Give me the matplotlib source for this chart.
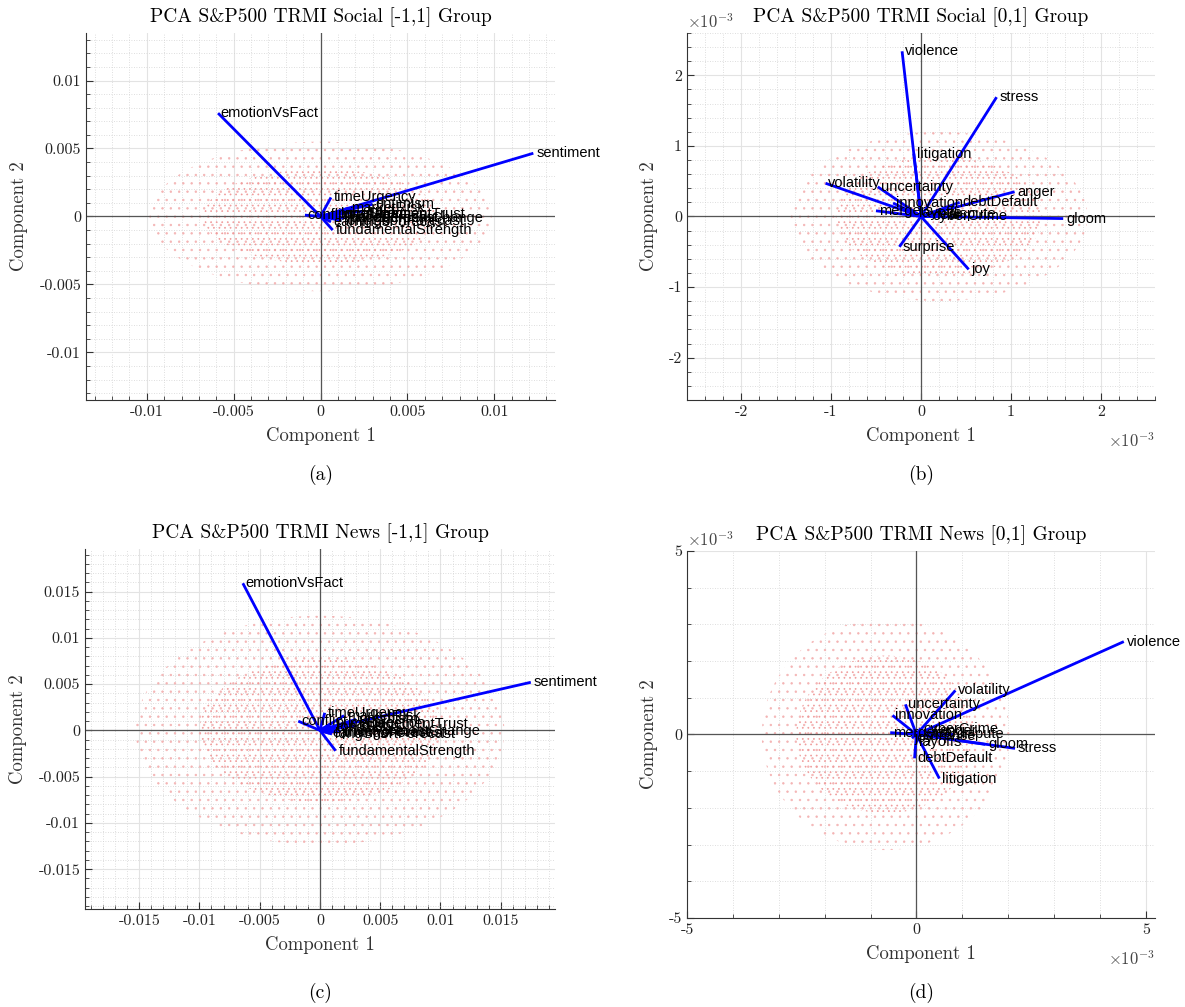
import numpy as np
import matplotlib
matplotlib.use("Agg")
import matplotlib.pyplot as plt
from matplotlib.patches import Ellipse
from matplotlib.ticker import MultipleLocator, FuncFormatter

plt.rcParams['font.family'] = 'serif'
plt.rcParams['font.serif'] = ['cmr10', 'DejaVu Serif']
plt.rcParams['mathtext.fontset'] = 'cm'
plt.rcParams['axes.unicode_minus'] = False
plt.rcParams['hatch.linewidth'] = 0.5

# ---- data: PCA loadings (component 1, component 2) ----
soc_bi_vars = ['sentiment', 'emotionVsFact', 'timeUrgency', 'optimism', 'marketRisk',
               'trust', 'conflict', 'priceDirection', 'priceForecast', 'longShort',
               'longShortForecast', 'managementTrust', 'managementChange',
               'earningsForecast', 'fundamentalStrength']
soc_bi_pc1 = [0.01225, -0.0059, 0.0006, 0.0030, 0.0016, 0.0025, -0.0009, 0.0008,
              0.0015, 0.0010, 0.0012, 0.0013, 0.0013, 0.0006, 0.0007]
soc_bi_pc2 = [0.00465, 0.0076, 0.0014, 0.0009, 0.0006, 0.0004, 0.0001, 0.0002,
              -0.0001, 0.0002, -0.0003, 0.0002, -0.0001, -0.0004, -0.0010]

soc_uni_vars = ['violence', 'stress', 'litigation', 'volatility', 'uncertainty', 'anger',
                'gloom', 'debtDefault', 'innovation', 'mergers', 'dispute', 'fear',
                'layoffs', 'cyberCrime', 'surprise', 'joy']
soc_uni_pc1 = [-0.21e-3, 0.84e-3, -0.08e-3, -1.06e-3, -0.48e-3, 1.04e-3, 1.58e-3,
               0.43e-3, -0.31e-3, -0.50e-3, 0.27e-3, 0.15e-3, -0.05e-3, 0.10e-3,
               -0.24e-3, 0.53e-3]
soc_uni_pc2 = [2.34e-3, 1.69e-3, 0.89e-3, 0.47e-3, 0.42e-3, 0.35e-3, -0.03e-3,
               0.20e-3, 0.19e-3, 0.08e-3, 0.04e-3, 0.02e-3, 0.05e-3, 0.01e-3,
               -0.43e-3, -0.75e-3]

news_bi_vars = soc_bi_vars
news_bi_pc1 = [0.0175, -0.0064, 0.0004, 0.0030, 0.0020, 0.0030, -0.0018, 0.0010,
               0.0015, 0.0012, 0.0010, 0.0022, 0.0017, 0.0008, 0.0013]
news_bi_pc2 = [0.0052, 0.0159, 0.0019, 0.0012, 0.0016, 0.0005, 0.0010, 0.0008,
               -0.0002, 0.0004, -0.0004, 0.0007, -0.0001, -0.0003, -0.0022]

news_uni_vars = ['violence', 'volatility', 'uncertainty', 'innovation', 'mergers',
                 'cyberCrime', 'dispute', 'gloom', 'stress', 'layoffs', 'debtDefault',
                 'litigation', 'fear', 'anger', 'joy', 'surprise']
news_uni_pc1 = [4.52e-3, 0.85e-3, -0.24e-3, -0.52e-3, -0.57e-3, 0.09e-3, 0.80e-3,
                1.50e-3, 2.15e-3, 0.00e-3, -0.04e-3, 0.50e-3, 0.30e-3, 0.45e-3,
                -0.10e-3, 0.10e-3]
news_uni_pc2 = [2.53e-3, 1.20e-3, 0.82e-3, 0.52e-3, 0.05e-3, 0.16e-3, 0.00e-3,
                -0.27e-3, -0.38e-3, -0.20e-3, -0.65e-3, -1.20e-3, 0.05e-3, 0.10e-3,
                -0.10e-3, -0.05e-3]

# spread of the observation scores (centre x, centre y, outer w, outer h, core w, core h)
soc_bi_obs = [0.0, 0.0, 0.0197, 0.0110, 0.0135, 0.0070]
soc_uni_obs = [0.2e-3, 0.0, 3.3e-3, 2.4e-3, 2.3e-3, 1.7e-3]
news_bi_obs = [0.0, 0.0, 0.0306, 0.0248, 0.0200, 0.0155]
news_uni_obs = [-0.67e-3, 0.0, 5.4e-3, 6.3e-3, 3.9e-3, 4.3e-3]

titles = ['PCA S&P500 TRMI Social [-1,1] Group', 'PCA S&P500 TRMI Social [0,1] Group',
          'PCA S&P500 TRMI News [-1,1] Group', 'PCA S&P500 TRMI News [0,1] Group']
captions = ['(a)', '(b)', '(c)', '(d)']


def biplot(ax, names, pc1, pc2, obs, lim, major, minor, scaled=False):
    cx, cy, ow, oh, iw, ih = obs
    ax.add_patch(Ellipse((cx, cy), ow, oh, facecolor='none', edgecolor='#f4b4b4',
                         hatch='..', linewidth=0, zorder=1))
    ax.add_patch(Ellipse((cx, cy), iw, ih, facecolor='none', edgecolor='#f09c9c',
                         hatch='...', linewidth=0, zorder=1))

    ax.axhline(0, color='#555555', lw=0.9, zorder=2)
    ax.axvline(0, color='#555555', lw=0.9, zorder=2)
    for n, x, y in zip(names, pc1, pc2):
        ax.plot([0, x], [0, y], color='blue', lw=2.0, zorder=3, solid_capstyle='butt')
        ax.annotate(n, (x, y), xytext=(2, 0), textcoords='offset points',
                    ha='left', va='center', fontsize=10.5, family='Liberation Sans',
                    zorder=4)

    ax.set_xlim(lim[0], lim[1])
    ax.set_ylim(lim[2], lim[3])
    for axis in (ax.xaxis, ax.yaxis):
        axis.set_major_locator(MultipleLocator(major))
        axis.set_minor_locator(MultipleLocator(minor))
        if scaled:
            axis.set_major_formatter(FuncFormatter(lambda v, _: f'{round(v * 1e3, 3) + 0.0:g}'))
        else:
            axis.set_major_formatter(FuncFormatter(lambda v, _: f'{round(v, 4) + 0.0:g}'))
    ax.grid(which='major', color='#e3e3e3', lw=0.8, ls='-')
    ax.grid(which='minor', color='#d3d3d3', lw=0.6, ls=(0, (1, 2)))
    ax.set_axisbelow(True)
    for s in ('top', 'right'):
        ax.spines[s].set_visible(False)
    for s in ('left', 'bottom'):
        ax.spines[s].set_color('#333333')
        ax.spines[s].set_linewidth(0.8)
    ax.tick_params(which='both', direction='in', colors='#333333', labelsize=11.5,
                   labelcolor='#222222')
    ax.tick_params(which='major', length=5)
    ax.tick_params(which='minor', length=3)
    ax.set_xlabel('Component 1', fontsize=13.5, color='#333333', labelpad=6)
    ax.set_ylabel('Component 2', fontsize=13.5, color='#333333', labelpad=8)
    if scaled:
        ax.text(0, 1.005, r'$\times10^{-3}$', transform=ax.transAxes, ha='left',
                va='bottom', fontsize=12, color='#444444')
        ax.text(1, -0.085, r'$\times10^{-3}$', transform=ax.transAxes, ha='right',
                va='top', fontsize=12, color='#444444')


fig = plt.figure(figsize=(11.85, 10.07), dpi=100)
ax_a = fig.add_axes([0.0726, 0.6028, 0.3958, 0.3645])
ax_b = fig.add_axes([0.5797, 0.6028, 0.3950, 0.3645])
ax_c = fig.add_axes([0.0717, 0.0973, 0.3966, 0.3575])
ax_d = fig.add_axes([0.5797, 0.0884, 0.3950, 0.3645])

biplot(ax_a, soc_bi_vars, soc_bi_pc1, soc_bi_pc2, soc_bi_obs,
       (-0.0135, 0.0135, -0.0135, 0.0135), 0.005, 0.001)
biplot(ax_b, soc_uni_vars, soc_uni_pc1, soc_uni_pc2, soc_uni_obs,
       (-2.6e-3, 2.6e-3, -2.6e-3, 2.6e-3), 1e-3, 0.2e-3, scaled=True)
biplot(ax_c, news_bi_vars, news_bi_pc1, news_bi_pc2, news_bi_obs,
       (-0.0195, 0.0195, -0.0193, 0.0196), 0.005, 0.001)
biplot(ax_d, news_uni_vars, news_uni_pc1, news_uni_pc2, news_uni_obs,
       (-5e-3, 5.2e-3, -5e-3, 5e-3), 5e-3, 1e-3, scaled=True)

caption_y = [0.5283, 0.5283, 0.0139, 0.0139]
for ax, t, c, cy in zip([ax_a, ax_b, ax_c, ax_d], titles, captions, caption_y):
    ax.set_title(t, fontsize=14, pad=8)
    pos = ax.get_position()
    fig.text((pos.x0 + pos.x1) / 2, cy, c, ha='center', va='center', fontsize=14)

fig.savefig('out.png', dpi=100)
